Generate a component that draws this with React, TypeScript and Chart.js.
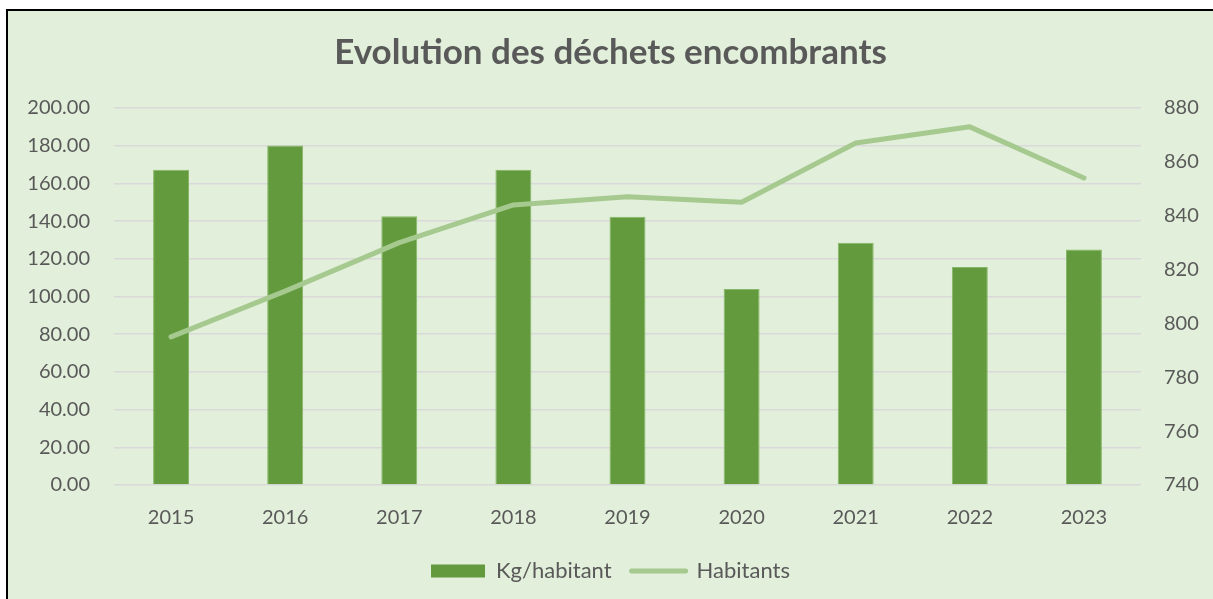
import React, { useEffect, useRef } from "react";
import { Chart, registerables } from "chart.js";

Chart.register(...registerables);

const categories = ["2015", "2016", "2017", "2018", "2019", "2020", "2021", "2022", "2023"];
const kgParHabitant = [167.2, 180.1, 142.6, 167.2, 142.3, 104.0, 128.5, 115.7, 125.0];
const habitants = [795, 812, 830, 844, 847, 845, 867, 873, 854];
const titleText = "Evolution des déchets encombrants";
const seriesLabels = ["Kg/habitant", "Habitants"];

const TEXT = "#595959";
const BAR = "#629A3D";
const LINE = "#A5C98E";
const GRID = "#D9D9D9";
const FONT = "Lato";

export default function App() {
  const ref = useRef<HTMLCanvasElement | null>(null);

  useEffect(() => {
    if (!ref.current) return;
    const chart = new Chart(ref.current, {
      type: "bar",
      data: {
        labels: categories,
        datasets: [
          {
            type: "bar",
            label: seriesLabels[0],
            data: kgParHabitant,
            backgroundColor: BAR,
            borderColor: "#86B766",
            borderWidth: 1,
            barPercentage: 0.315,
            categoryPercentage: 1,
            yAxisID: "y",
            order: 2,
          },
          {
            type: "line",
            label: seriesLabels[1],
            data: habitants,
            borderColor: LINE,
            backgroundColor: LINE,
            borderWidth: 5,
            borderCapStyle: "round",
            borderJoinStyle: "round",
            pointRadius: 0,
            tension: 0,
            yAxisID: "y1",
            order: 1,
          },
        ],
      },
      options: {
        responsive: false,
        animation: false,
        layout: { padding: { left: 0, right: 0, top: 0, bottom: 7 } },
        plugins: {
          title: {
            display: true,
            text: titleText,
            color: TEXT,
            font: { family: FONT, size: 35, weight: "bold" },
            padding: { top: 21, bottom: 34 },
          },
          tooltip: { enabled: false },
          legend: {
            display: true,
            position: "bottom",
            labels: {
              usePointStyle: true,
              pointStyleWidth: 54,
              boxHeight: 13,
              padding: 20,
              color: TEXT,
              font: { family: FONT, size: 22 },
              generateLabels: (c: any) =>
                c.data.datasets.map((ds: any, i: number) => ({
                  text: ds.label,
                  fillStyle: i === 0 ? BAR : LINE,
                  strokeStyle: i === 0 ? BAR : LINE,
                  lineWidth: i === 0 ? 0 : 5,
                  lineCap: "round",
                  pointStyle: i === 0 ? "rect" : "line",
                  hidden: false,
                  datasetIndex: i,
                  fontColor: TEXT,
                })),
            },
          },
        },
        scales: {
          x: {
            grid: { display: false, drawTicks: false },
            border: { display: false },
            ticks: { color: TEXT, font: { family: FONT, size: 20 }, padding: 21 },
            afterFit: (s: any) => {
              s.height = 55;
            },
          },
          y: {
            position: "left",
            min: 0,
            max: 200,
            grid: { color: GRID, lineWidth: 1.5, drawTicks: false },
            border: { display: false },
            ticks: {
              stepSize: 20,
              color: TEXT,
              font: { family: FONT, size: 20 },
              padding: 24,
              callback: (v: any) => Number(v).toFixed(2),
            },
            afterFit: (s: any) => {
              s.width = 106;
            },
          },
          y1: {
            position: "right",
            min: 740,
            max: 880,
            grid: { display: false, drawTicks: false },
            border: { display: false },
            ticks: {
              stepSize: 20,
              color: TEXT,
              font: { family: FONT, size: 20 },
              padding: 23,
            },
            afterFit: (s: any) => {
              s.width = 72;
            },
          },
        },
      },
    });
    return () => chart.destroy();
  }, []);

  return (
    <div style={{ position: "fixed", left: 0, top: 0, width: 1213, height: 599, background: "#FFFFFF", overflow: "hidden" }}>
      <div
        style={{
          position: "absolute",
          left: 6,
          top: 9,
          width: 1207,
          height: 590,
          borderLeft: "2px solid #000",
          borderTop: "2px solid #000",
          background: "#E2EFDA",
          boxSizing: "border-box",
        }}
      >
        <canvas ref={ref} width={1205} height={588} style={{ display: "block" }} />
      </div>
    </div>
  );
}
